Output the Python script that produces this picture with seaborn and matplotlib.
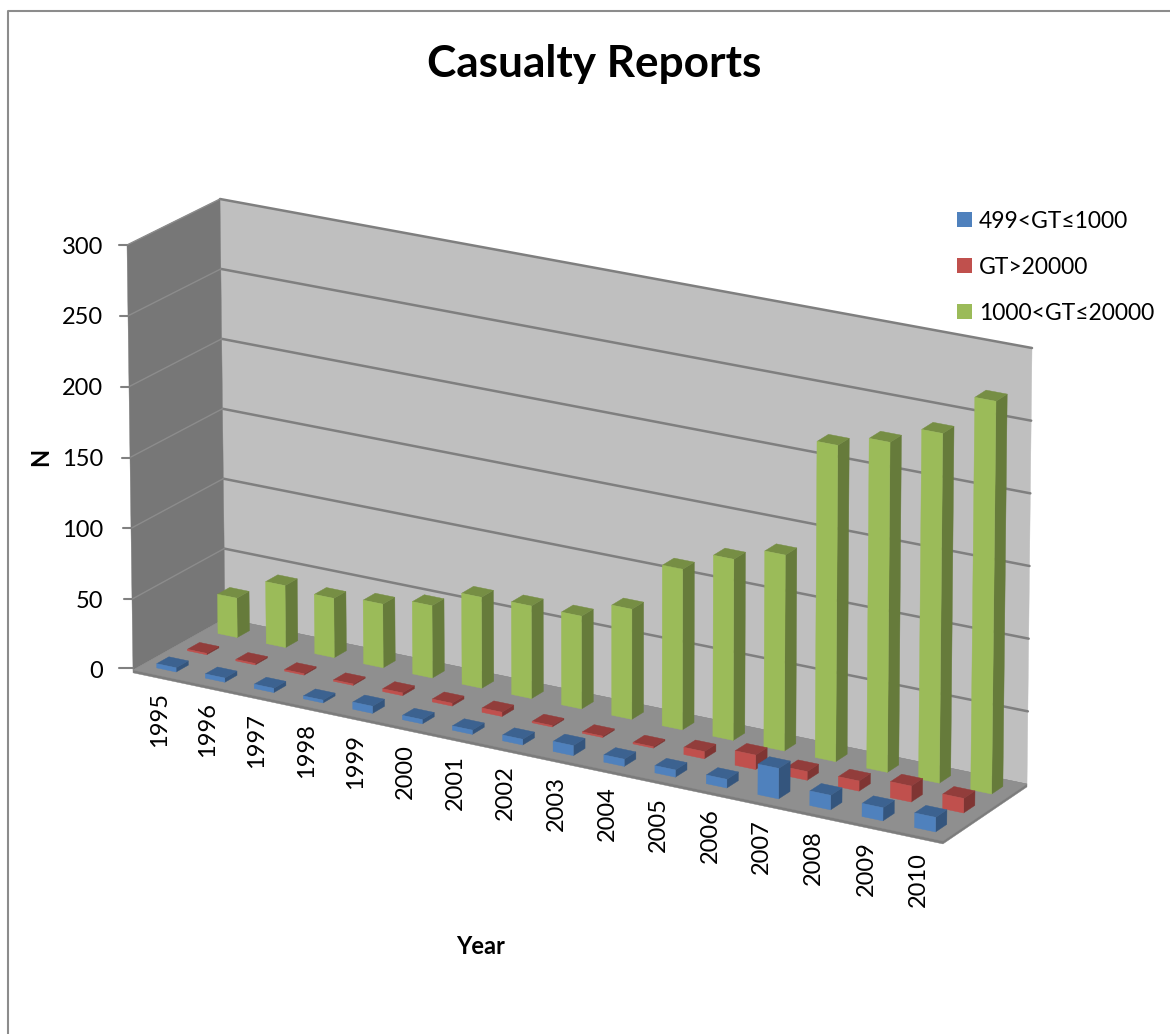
import numpy as np
import pandas as pd
import matplotlib
matplotlib.use("Agg")
import matplotlib.pyplot as plt
import seaborn as sns

years = list(range(1995, 2011))
small_ships = [3, 3, 3, 2, 5, 3, 3, 4, 7, 5, 5, 6, 21, 10, 9, 10]
large_ships = [1, 1, 1, 1, 2, 2, 3, 1, 1, 1, 5, 10, 6, 7, 11, 10]
medium_ships = [28, 44, 42, 45, 51, 64, 65, 65, 77, 112, 126, 136, 219, 228, 241, 270]
series_names = ["499<GT≤1000", "GT>20000", "1000<GT≤20000"]
value_ticks = [0, 50, 100, 150, 200, 250, 300]
base_colors = ["#4F81BD", "#C0504D", "#9BBB59"]

sns.set_theme(style="white")
plt.rcParams["font.family"] = ["Lato", "DejaVu Sans"]

frame = pd.DataFrame({
    "year": years,
    series_names[0]: small_ships,
    series_names[1]: large_ships,
    series_names[2]: medium_ships,
}).melt(id_vars="year", var_name="series", value_name="n")
palette = dict(zip(series_names, sns.color_palette(base_colors)))

fig = plt.figure(figsize=(11.7, 10.34), dpi=100, facecolor="white")
ax = fig.add_axes([0, 0, 1, 1])
ax.set_xlim(0, 1170)
ax.set_ylim(1034, 0)
ax.axis("off")

# Box corners of the 3D plot area on the page: (front/back, left/right, bottom/top)
BOX = {
    (0, 0, 0): (133, 670), (0, 0, 1): (127, 245),
    (1, 0, 0): (225, 618.5), (1, 0, 1): (220, 199),
    (0, 1, 0): (943, 841), (0, 1, 1): (948, 402),
    (1, 1, 0): (1027, 784), (1, 1, 1): (1032, 348),
}
N_YEARS = len(years)
N_SERIES = len(series_names)
V_MAX = value_ticks[-1]
FORESHORTEN = 0.045  # year slots widen toward the viewer on the right


def project(u, d, v):
    """Map (year slot, series slot, value) into page coordinates."""
    a = u / N_YEARS
    a = a / (1 + FORESHORTEN * (1 - a))
    b, c = d / N_SERIES, v / V_MAX
    x = y = 0.0
    for i, wb in ((0, 1 - b), (1, b)):
        for j, wa in ((0, 1 - a), (1, a)):
            for k, wc in ((0, 1 - c), (1, c)):
                px, py = BOX[(i, j, k)]
                x += wa * wb * wc * px
                y += wa * wb * wc * py
    return x, y


def face(points, color, z=1):
    xy = np.array([project(*p) for p in points])
    ax.fill(xy[:, 0], xy[:, 1], facecolor=color, edgecolor=color, linewidth=0.3, zorder=z)


def shade(color, factor):
    return tuple(channel * factor for channel in color)


# Walls and floor
face([(0, 3, 0), (16, 3, 0), (16, 3, 300), (0, 3, 300)], "#BFBFBF")
face([(0, 0, 0), (0, 3, 0), (0, 3, 300), (0, 0, 300)], "#777777")
face([(0, 0, -2), (16, 0, -2), (16, 3, -2), (16, 3, 0), (0, 3, 0), (0, 0, 0)], "#7C7C7C")
face([(0, 0, 0), (16, 0, 0), (16, 3, 0), (0, 3, 0)], "#8F8F8F")

# Gridlines and value axis
for v in value_ticks:
    if v > 0:
        back = np.array([project(0, 3, v), project(16, 3, v)])
        ax.plot(back[:, 0], back[:, 1], color="#7F7F7F", lw=1.8, zorder=2)
        side = np.array([project(0, 0, v), project(0, 3, v)])
        ax.plot(side[:, 0], side[:, 1], color="#8C8C8C", lw=1.0, zorder=2)
    x0, y0 = project(0, 0, v)
    ax.plot([x0 - 8 - (v == 0) * 6, x0], [y0 - (v == 0) * 2] * 2, color="#808080", lw=1.5, zorder=2)
    ax.text(103, y0 + 2, str(v), ha="right", va="center", fontsize=17, color="black")

# Bars, drawn from the rear series forwards
BAR_LO, BAR_HI = 0.3, 0.7
for s, name in reversed(list(enumerate(series_names))):
    subset = frame[frame["series"] == name]
    color = palette[name]
    for i, n in enumerate(subset["n"]):
        u0, u1 = i + BAR_LO, i + BAR_HI
        d0, d1 = s + BAR_LO, s + BAR_HI
        face([(u1, d0, 0), (u1, d1, 0), (u1, d1, n), (u1, d0, n)], shade(color, 0.66), 3)
        face([(u0, d0, n), (u1, d0, n), (u1, d1, n), (u0, d1, n)], shade(color, 0.76), 3)
        face([(u0, d0, 0), (u1, d0, 0), (u1, d0, n), (u0, d0, n)], color, 3)

# Year labels under the front edge of the floor
for i, year in enumerate(years):
    x, y = project(i + 0.5, 0, 0)
    ax.text(x + 2, y + 17, str(year), rotation=90, ha="center", va="top", fontsize=17, color="black")

# Page frame
ax.plot([8, 8, 1170], [1034, 11, 11], color="#8C8C8C", lw=1.5, zorder=1)

# Titles
ax.text(594, 64, "Casualty Reports", ha="center", va="center", fontsize=31.8, fontweight="bold", color="black")
ax.text(41, 457, "N", rotation=90, ha="center", va="center", fontsize=17, fontweight="bold", color="black")
ax.text(481, 946, "Year", ha="center", va="center", fontsize=17, fontweight="bold", color="black")

# Legend
for name, y in zip(series_names, [212, 258, 304]):
    ax.fill([957, 972, 972, 957], [y, y, y + 15, y + 15], color=palette[name], lw=0, zorder=3)
    ax.text(979, y + 9, name, ha="left", va="center", fontsize=16.5, color="black")

fig.savefig("out.png", dpi=100)
